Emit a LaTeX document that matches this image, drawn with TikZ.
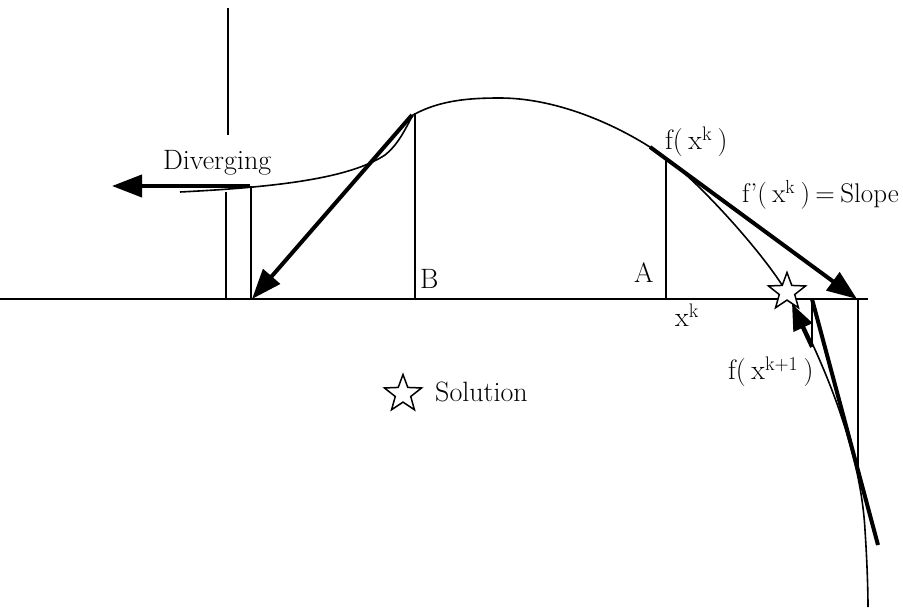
\documentclass[tikz,border=0pt]{standalone}
\usetikzlibrary{arrows.meta,shapes.geometric}
\newcommand\tightsp{\spaceskip=0.2em\relax}
\begin{document}
\begin{tikzpicture}[x=1pt,y=-1pt,
  fline/.style={line width=1.6pt},
  bigarrow/.style={line width=4pt,-{Triangle[length=30pt,width=22pt]}},
  bigline/.style={line width=4pt},
  lbl/.style={inner sep=0pt,anchor=base west,font=\fontsize{28}{32}\selectfont,execute at begin node=\tightsp},
  starmark/.style={star,star points=5,star point ratio=2.4,draw,fill=white,line width=1.5pt,minimum size=39pt,inner sep=0pt}]
\useasboundingbox (0,0) rectangle (903,612);
% key points
\coordinate (axL) at (0,299);
\coordinate (axR) at (868,299);
\coordinate (topT) at (228,8);
\coordinate (topB) at (228,135);
\coordinate (v1t) at (226,192);
\coordinate (v1b) at (226,299);
\coordinate (v2t) at (251,186);
\coordinate (v2b) at (251,299);
\coordinate (Bt) at (415,113);
\coordinate (Bb) at (415,299);
\coordinate (At) at (666,158);
\coordinate (Ab) at (666,299);
\coordinate (v3t) at (812,299);
\coordinate (v3b) at (812,343);
\coordinate (v4t) at (858,299);
\coordinate (v4b) at (858,478);
\coordinate (divS) at (250,186);
\coordinate (divE) at (112,186);
\coordinate (t1S) at (412,115);
\coordinate (t1E) at (252,299);
\coordinate (t2S) at (650,147);
\coordinate (t2E) at (857,299);
\coordinate (t3S) at (812,347);
\coordinate (t3E) at (792,304);
\coordinate (t4S) at (812,299);
\coordinate (t4E) at (878,545);
% function curve
\draw[fline] (180,192) .. controls (280,187) and (350,178) .. (385,155)
  .. controls (400,143) and (407,125) .. (413,115)
  .. controls (440,100) and (470,98) .. (500,98)
  .. controls (560,98) and (625,128) .. (666,158)
  .. controls (700,183) and (765,255) .. (787,293)
  .. controls (815,345) and (860,440) .. (865,530)
  .. controls (867,560) and (868,590) .. (868,607);
% thin lines
\draw[fline] (axL) -- (axR);
\draw[fline] (topT) -- (topB);
\draw[fline] (v1t) -- (v1b);
\draw[fline] (v2t) -- (v2b);
\draw[fline] (Bt) -- (Bb);
\draw[fline] (At) -- (Ab);
\draw[fline] (v3t) -- (v3b);
\draw[fline] (v4t) -- (v4b);
% thick arrows and lines
\draw[bigarrow] (divS) -- (divE);
\draw[bigarrow] (t1S) -- (t1E);
\draw[bigarrow] (t2S) -- (t2E);
\draw[bigline] (t4S) -- (t4E);
% stars
\node[starmark] (sol) at (787,292) {};
\draw[bigarrow,-{Triangle[length=26pt,width=20pt]}] (t3S) -- (t3E);
\node[starmark] (legstar) at (403,394) {};
% labels
\node[lbl] (ldiv) at (163,170) {Diverging};
\node[lbl] (lB) at (420,289) {B};
\node[lbl] (lA) at (634,283) {A};
\node[lbl] (lxk) at (675,327) {x\textsuperscript{k}};
\node[lbl] (lfxk) at (665,150) {f( x\textsuperscript{k} )};
\node[lbl,font=\fontsize{27}{31}\selectfont] (lslope) at (742,203) {f\kern1pt’( x\textsuperscript{k} ) = Slope};
\node[lbl] (lfxk1) at (728,380) {f( x\textsuperscript{k+1} )};
\node[lbl] (lsol) at (435,402) {Solution};
\end{tikzpicture}
\end{document}
